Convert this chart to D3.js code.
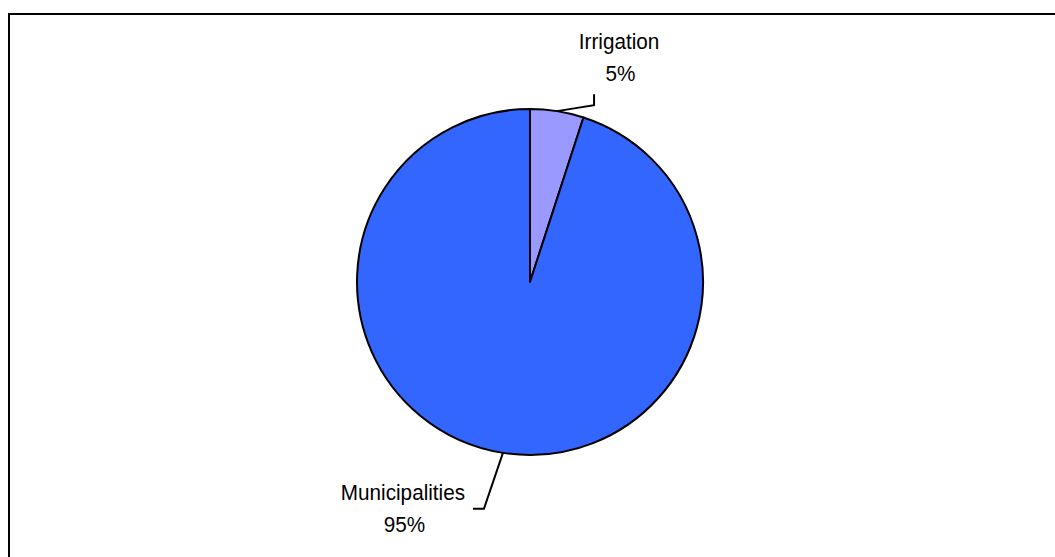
<!DOCTYPE html>
<html><head><meta charset="utf-8">
<script src="https://cdn.jsdelivr.net/npm/d3@7"></script>
<style>html,body{margin:0;padding:0;background:#fff;overflow:hidden}</style>
</head><body>
<svg id="c" width="1055" height="557"></svg>
<script>
const categories = ["Irrigation", "Municipalities"];
const values = [5, 95];
const labels = ["5%", "95%"];
const colors = ["#9999FF", "#3366FF"];

const svg = d3.select("#c");
svg.append("rect").attr("x", 9).attr("y", 14).attr("width", 1100).attr("height", 600)
  .attr("fill", "#fff").attr("stroke", "#000").attr("stroke-width", 2);

const cx = 530, cy = 282, r = 173;
const pie = d3.pie().sort(null).value(d => d)(values);
const arc = d3.arc().innerRadius(0).outerRadius(r);
const g = svg.append("g").attr("transform", `translate(${cx},${cy})`);
g.selectAll("path").data(pie).join("path")
  .attr("d", arc).attr("fill", (d, i) => colors[i])
  .attr("stroke", "#000").attr("stroke-width", 2).attr("stroke-linejoin", "round");

const font = "'Liberation Sans', Arial, sans-serif";
const layout = [
  {tx: 62, y1: -62, y2: -30, line: (p) => [[p[0], p[1]], [p[0] + 37, p[1] - 6], [p[0] + 37, p[1] - 17]]},
  {tx: -100, y1: 47, y2: 79, line: (p) => [[p[0], p[1]], [p[0] - 19, p[1] + 56], [p[0] - 30, p[1] + 56]]}
];
function addText(x, y, s) {
  const t = svg.append("text").attr("text-anchor", "middle")
    .attr("font-family", font).attr("font-size", 22.5).attr("fill", "#000")
    .attr("x", x).attr("y", y).text(s);
  const w = t.node().getComputedTextLength();
  t.attr("textLength", w * 0.92).attr("lengthAdjust", "spacingAndGlyphs");
}
pie.forEach((d, i) => {
  const a = (d.startAngle + d.endAngle) / 2;
  const px = cx + r * Math.sin(a), py = cy - r * Math.cos(a);
  const L = layout[i];
  svg.append("path").attr("d", d3.line()(L.line([px, py])))
    .attr("fill", "none").attr("stroke", "#000").attr("stroke-width", 2);
  addText(px + L.tx, py + L.y1, categories[i]);
  addText(px + L.tx + 1.5, py + L.y2, labels[i]);
});
</script>
</body></html>
